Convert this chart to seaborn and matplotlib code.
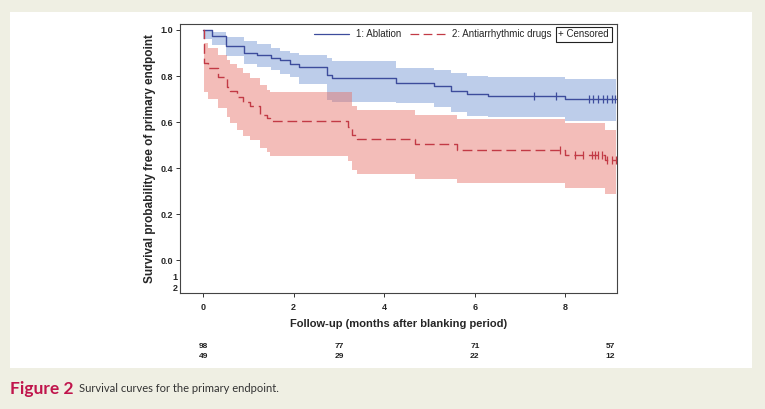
import numpy as np
import pandas as pd
import matplotlib
matplotlib.use("Agg")
import matplotlib.pyplot as plt
import seaborn as sns
from matplotlib.patches import Rectangle
from matplotlib.lines import Line2D
from matplotlib.transforms import blended_transform_factory

# ---------------- data ----------------
abl_t  = [0.00, 0.19, 0.51, 0.91, 1.18, 1.51, 1.70, 1.92, 2.12, 2.73, 2.84, 4.27, 5.10, 5.47, 5.82, 6.30, 7.99]
abl_s  = [1.000, 0.975, 0.930, 0.899, 0.891, 0.880, 0.868, 0.853, 0.838, 0.804, 0.790, 0.768, 0.757, 0.735, 0.720, 0.714, 0.700]
abl_lo = [0.960, 0.935, 0.885, 0.850, 0.840, 0.825, 0.810, 0.795, 0.765, 0.695, 0.688, 0.683, 0.667, 0.645, 0.625, 0.623, 0.604]
abl_hi = [1.000, 0.990, 0.970, 0.950, 0.940, 0.920, 0.910, 0.900, 0.892, 0.878, 0.865, 0.835, 0.825, 0.813, 0.800, 0.797, 0.785]
abl_cens = [7.31, 7.79, 8.52, 8.62, 8.72, 8.82, 8.92, 9.02, 9.10]

aad_t  = [0.00, 0.02, 0.10, 0.34, 0.52, 0.60, 0.74, 0.89, 1.04, 1.26, 1.41, 1.48, 3.21, 3.28, 3.39, 4.68, 5.60, 7.99, 8.87]
aad_s  = [1.000, 0.855, 0.833, 0.794, 0.754, 0.735, 0.710, 0.688, 0.671, 0.630, 0.616, 0.604, 0.580, 0.543, 0.525, 0.503, 0.478, 0.457, 0.435]
aad_lo = [1.000, 0.732, 0.700, 0.660, 0.620, 0.595, 0.565, 0.540, 0.520, 0.485, 0.470, 0.452, 0.430, 0.390, 0.373, 0.351, 0.336, 0.315, 0.286]
aad_hi = [1.000, 0.942, 0.920, 0.891, 0.870, 0.850, 0.833, 0.812, 0.790, 0.761, 0.739, 0.732, 0.732, 0.670, 0.652, 0.630, 0.612, 0.594, 0.565]
aad_cens = [7.88, 8.21, 8.39, 8.58, 8.66, 8.73, 8.80, 8.92, 9.02, 9.11]

t_end = 9.12
risk_times = [0, 3, 6, 9]
risk_abl = [98, 77, 71, 57]
risk_aad = [49, 29, 22, 12]
group_labels = ["1: Ablation", "2: Antiarrhythmic drugs"]
x_ticks = [0, 2, 4, 6, 8]
y_ticks = [0.0, 0.2, 0.4, 0.6, 0.8, 1.0]

# ---------------- style ----------------
sns.set_style("white")
plt.rcParams["font.family"] = ["Liberation Sans", "DejaVu Sans"]

BLUE = "#3d4c9c"
RED = "#c23a45"
BLUE_BAND = "#6e91d2"
RED_BAND = "#e66e64"
BG = "#efefe3"

fig = plt.figure(figsize=(7.65, 4.09), dpi=100)
fig.patch.set_facecolor(BG)
W, H = 765, 409

# white panel
fig.patches.append(Rectangle((10 / W, 1 - 368 / H), 742 / W, 356 / H,
                             transform=fig.transFigure, facecolor="white",
                             edgecolor="none", zorder=-5))

ax = fig.add_axes([180 / W, 1 - 293 / H, 437 / W, 269 / H])
ax.set_zorder(2)
ax.set_facecolor("white")


def extend(t, v):
    return list(t) + [t_end], list(v) + [v[-1]]


# bands
for t, lo, hi, c in [(abl_t, abl_lo, abl_hi, BLUE_BAND), (aad_t, aad_lo, aad_hi, RED_BAND)]:
    tt, ll = extend(t, lo)
    _, hh = extend(t, hi)
    ax.fill_between(tt, ll, hh, step="post", color=c, alpha=0.45, linewidth=0, zorder=1)

# curves
rows = []
for g, t, s in [(group_labels[0], abl_t, abl_s), (group_labels[1], aad_t, aad_s)]:
    tt, ss = extend(t, s)
    rows += [{"group": g, "time": a, "surv": b} for a, b in zip(tt, ss)]
df = pd.DataFrame(rows)
sns.lineplot(data=df, x="time", y="surv", hue="group", style="group",
             palette={group_labels[0]: BLUE, group_labels[1]: RED},
             dashes={group_labels[0]: "", group_labels[1]: (7, 3.5)},
             drawstyle="steps-post", linewidth=1.0, ax=ax, legend=False,
             estimator=None, sort=False, zorder=3)

# censor marks
for t, s, cens, c in [(abl_t, abl_s, abl_cens, BLUE), (aad_t, aad_s, aad_cens, RED)]:
    idx = np.searchsorted(t, cens, side="right") - 1
    cy = np.array(s)[idx]
    sns.scatterplot(x=cens, y=cy, marker="|", s=28, color=c, linewidth=0.9, ax=ax, zorder=4)

ax.set_xlim(-0.51, 9.14)
ax.set_ylim(-0.143, 1.026)
ax.set_xticks(x_ticks)
ax.set_yticks(y_ticks)
ax.set_xticklabels([str(v) for v in x_ticks], fontsize=6.5, fontweight="bold")
ax.set_yticklabels([f"{v:.1f}" for v in y_ticks], fontsize=6.5, fontweight="bold")
ax.tick_params(axis="both", which="major", bottom=True, left=True, direction="out",
               length=3, width=0.7, color="#333333", pad=2)
ax.tick_params(axis="x", pad=4)
for sp in ax.spines.values():
    sp.set_color("#444444")
    sp.set_linewidth(0.8)

ax.set_xlabel("Follow-up (months after blanking period)", fontsize=8, fontweight="bold", labelpad=5)
ax.set_ylabel("Survival probability free of primary endpoint", fontsize=8.5, fontweight="bold")
ax.yaxis.set_label_coords(-0.056, 0.5)

# at-risk row labels inside y axis
ax.text(-0.006, -0.074, "1", transform=ax.get_yaxis_transform(), ha="right", va="center",
        fontsize=6.5, fontweight="bold")
ax.text(-0.006, -0.122, "2", transform=ax.get_yaxis_transform(), ha="right", va="center",
        fontsize=6.5, fontweight="bold")

# legend
handles = [Line2D([], [], color=BLUE, lw=0.9),
           Line2D([], [], color=RED, lw=0.9, dashes=(7, 3.5))]
leg = ax.legend(handles, group_labels, loc="center right", bbox_to_anchor=(0.858, 0.962),
                ncol=2, frameon=False, fontsize=7, handlelength=3.6, handletextpad=0.7,
                columnspacing=0.9, borderaxespad=0)
ax.text(0.924, 0.962, "+ Censored", transform=ax.transAxes, ha="center", va="center",
        fontsize=7, bbox=dict(boxstyle="square,pad=0.25", facecolor="white",
                              edgecolor="#222222", linewidth=0.8))

# number at risk table
risk_tr = blended_transform_factory(ax.transData, fig.transFigure)
for row_y, vals in [(346, risk_abl), (357, risk_aad)]:
    for tm, v in zip(risk_times, vals):
        ax.text(tm, 1 - row_y / H, str(v), transform=risk_tr, ha="center", va="center",
                fontsize=6, fontweight="bold", color="#222222", clip_on=False)

# caption
fig.text(10 / W, 1 - 389 / H, "Figure 2", fontsize=12.5, fontweight="bold", color="#c0154c",
         family="Lato", va="center")
fig.text(79 / W, 1 - 389 / H, "Survival curves for the primary endpoint.", fontsize=8,
         color="#333333", family="Lato", va="center")

fig.savefig("out.png", dpi=100, facecolor=BG)
